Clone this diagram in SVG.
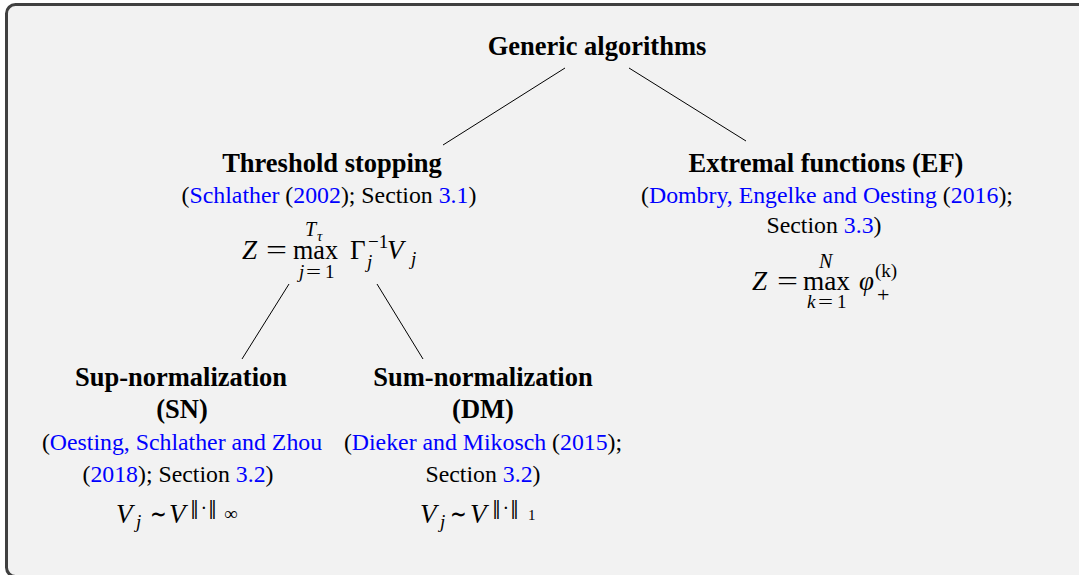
<svg xmlns="http://www.w3.org/2000/svg" width="1079" height="575" viewBox="0 0 1079 575">
<style>
text{font-family:"Liberation Serif","Times New Roman",serif;font-size:23.8px;fill:#000}
.t{text-anchor:middle}
.b{font-weight:bold;font-size:26.5px}
.l{fill:#0000ff}
.m{font-size:27px}
.i{font-style:italic}
.s{font-size:19px}
.ss{font-size:15px}
.n{font-family:"DejaVu Serif",serif;font-size:18px}
.edge{stroke:#000;stroke-width:1;fill:none}
</style>
<rect x="6.5" y="4.5" width="1100" height="572" rx="9" fill="#f2f2f2" stroke="#404040" stroke-width="3"/>
<g id="connectors">
<line class="edge" x1="565" y1="68" x2="443" y2="145"/>
<line class="edge" x1="629" y1="68" x2="746" y2="141"/>
<line class="edge" x1="289" y1="284" x2="242" y2="359"/>
<line class="edge" x1="377" y1="284" x2="423" y2="359"/>
</g>
<g id="generic">
<text class="t b" x="597" y="55">Generic algorithms</text>
</g>
<g id="threshold">
<text class="t b" x="332" y="172">Threshold stopping</text>
<text class="t" x="329" y="203">(<tspan class="l">Schlather</tspan> (<tspan class="l">2002</tspan>); Section <tspan class="l">3.1</tspan>)</text>
<text class="i m" x="242" y="259">Z</text>
<text class="m" x="266" y="259" textLength="21" lengthAdjust="spacingAndGlyphs">=</text>
<text class="m" x="293" y="259" textLength="45" lengthAdjust="spacingAndGlyphs">max</text>
<text class="i" style="font-size:20px" x="305" y="236">T</text>
<text class="i ss" x="317" y="241">τ</text>
<text class="i s" x="299" y="278">j</text>
<text class="s" x="306" y="278" textLength="15" lengthAdjust="spacingAndGlyphs">=</text>
<text class="s" x="325" y="278">1</text>
<text class="m" x="350" y="259">Γ</text>
<text class="s" x="368" y="248">−1</text>
<text class="i s" x="367" y="268">j</text>
<text class="i m" x="387" y="259">V</text>
<text class="i s" x="411" y="265">j</text>
</g>
<g id="ef">
<text class="t b" x="826" y="172">Extremal functions (EF)</text>
<text class="t" x="827" y="203">(<tspan class="l">Dombry, Engelke and Oesting</tspan> (<tspan class="l">2016</tspan>);</text>
<text class="t" x="824" y="233">Section <tspan class="l">3.3</tspan>)</text>
<text class="i m" x="752" y="290">Z</text>
<text class="m" x="777" y="290" textLength="21" lengthAdjust="spacingAndGlyphs">=</text>
<text class="m" x="803" y="290" textLength="47" lengthAdjust="spacingAndGlyphs">max</text>
<text class="i" style="font-size:20px" x="819" y="268">N</text>
<text class="i s" x="807" y="308">k</text>
<text class="s" x="818" y="308" textLength="15" lengthAdjust="spacingAndGlyphs">=</text>
<text class="s" x="837" y="308">1</text>
<text class="i m" x="859" y="290">φ</text>
<text class="s" x="875" y="277">(k)</text>
<text style="font-size:22px" x="877" y="302">+</text>
</g>
<g id="sn">
<text class="t b" x="181" y="386">Sup-normalization</text>
<text class="t b" x="182" y="418">(SN)</text>
<text class="t" x="182" y="450">(<tspan class="l">Oesting, Schlather and Zhou</tspan></text>
<text class="t" x="178" y="482">(<tspan class="l">2018</tspan>); Section <tspan class="l">3.2</tspan>)</text>
<text class="i m" x="116" y="523">V</text>
<text class="i s" x="136" y="528">j</text>
<text class="m" x="150" y="523" textLength="17" lengthAdjust="spacingAndGlyphs">∼</text>
<text class="i m" x="169" y="523">V</text>
<text class="n" x="190" y="514">‖</text>
<text class="n" x="201" y="514">·</text>
<text class="n" x="208" y="514">‖</text>
<text class="s" x="224" y="520">∞</text>
</g>
<g id="dm">
<text class="t b" x="483" y="386">Sum-normalization</text>
<text class="t b" x="483" y="418">(DM)</text>
<text class="t" x="483" y="450">(<tspan class="l">Dieker and Mikosch</tspan> (<tspan class="l">2015</tspan>);</text>
<text class="t" x="483" y="482">Section <tspan class="l">3.2</tspan>)</text>
<text class="i m" x="420" y="523">V</text>
<text class="i s" x="440" y="528">j</text>
<text class="m" x="450" y="523" textLength="17" lengthAdjust="spacingAndGlyphs">∼</text>
<text class="i m" x="470" y="523">V</text>
<text class="n" x="492" y="514">‖</text>
<text class="n" x="503" y="514">·</text>
<text class="n" x="510" y="514">‖</text>
<text class="ss" x="528" y="520">1</text>
</g>
</svg>
